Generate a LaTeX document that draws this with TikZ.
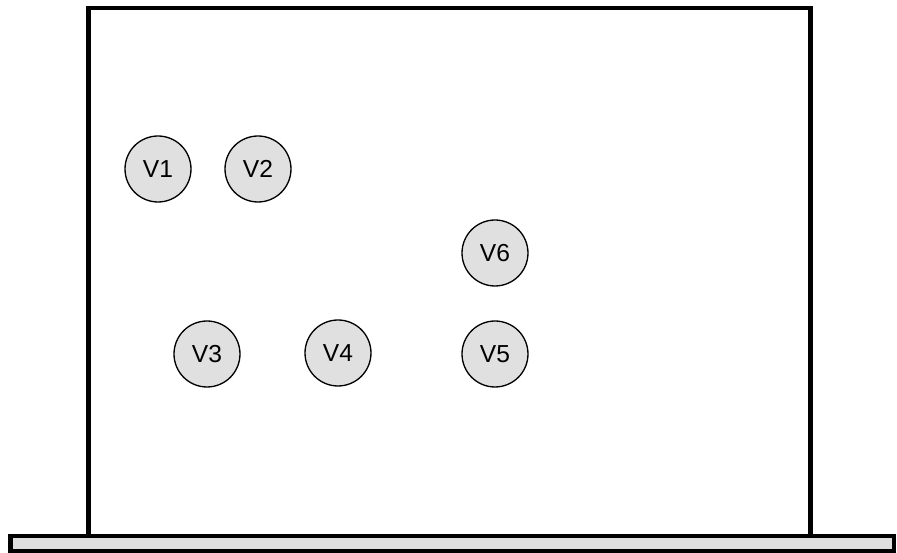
\documentclass[tikz,border=0pt]{standalone}
\usepackage{fontspec}
\setmainfont{Liberation Sans}
\usepackage{xcolor}
\usetikzlibrary{positioning}

\begin{document}
\begin{tikzpicture}[
    x=0.02cm, y=-0.02cm,
    vnode/.style={circle, draw=black, fill=black!12, line width=0.75pt,
      minimum size=1.32cm, inner sep=0pt, font=\fontsize{14}{16}\selectfont},
    frame/.style={draw=black, line width=2.3pt, line join=miter},
    base/.style={draw=black, fill=black!13, line width=2.3pt},
  ]
    \useasboundingbox (0,0) rectangle (897,553);

    % Frame and base
    \draw[frame] (88.5,536) |- (810.5,8) -- (810.5,536);
    \draw[base] (10.5,536) rectangle (894,551);

    % Nodes
    \node[vnode] (v1) at (158,169) {V1};
    \node[vnode] (v2) at (258,169) {V2};
    \node[vnode] (v6) at (495,253) {V6};
    \node[vnode] (v3) at (207,354) {V3};
    \node[vnode] (v4) at (338,353) {V4};
    \node[vnode] (v5) at (495,354) {V5};
\end{tikzpicture}
\end{document}
